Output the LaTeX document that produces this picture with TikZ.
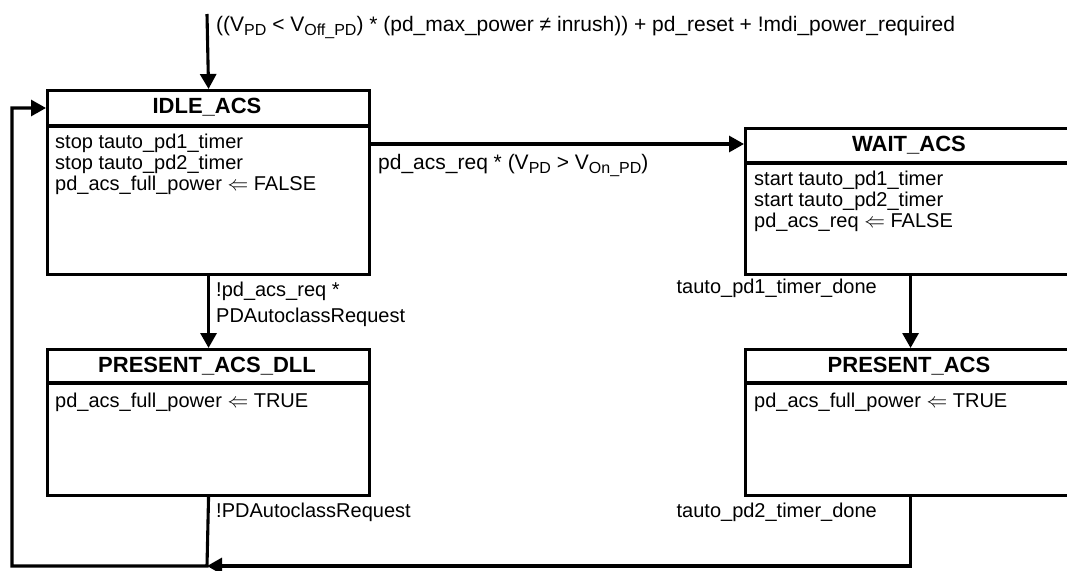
\documentclass[tikz,border=0pt]{standalone}
\usepackage{fontspec}
\setmainfont{Liberation Sans}
\usetikzlibrary{arrows.meta}
\newcommand{\lsub}[1]{\raisebox{-4.5pt}{\fontsize{16}{16}\selectfont #1}}
\begin{document}
\begin{tikzpicture}[x=1pt,y=-1pt,
  box/.style={draw, line width=3.1pt, inner sep=0pt, anchor=north west},
  title/.style={font=\fontsize{22}{24}\selectfont\bfseries, inner sep=0pt, anchor=base},
  body/.style={font=\fontsize{20}{21}\selectfont, align=left, inner sep=0pt, anchor=base west},
  lbl/.style={font=\fontsize{20}{26}\selectfont, align=left, inner sep=0pt},
  arr/.style={-{Triangle[length=15pt,width=16pt]}, line width=3.1pt},
  ln/.style={line width=3.1pt}]
\useasboundingbox (0,0) rectangle (1067,570);
\clip (0,0) rectangle (1067,570);

% state boxes
\node[box, minimum width=322pt, minimum height=184pt] (idle) at (46,89) {};
\node[box, minimum width=330pt, minimum height=146pt] (wait) at (744,127) {};
\node[box, minimum width=322pt, minimum height=146pt] (dll) at (46,348) {};
\node[box, minimum width=330pt, minimum height=146pt] (pres) at (744,348) {};

% header dividers
\draw[ln] (idle.west |- 0,126) -- (idle.east |- 0,126);
\draw[ln] (wait.west |- 0,163) -- (wait.east |- 0,163);
\draw[ln] (dll.west |- 0,383) -- (dll.east |- 0,383);
\draw[ln] (pres.west |- 0,383) -- (pres.east |- 0,383);

% titles
\node[title] (t1) at (207,113) {IDLE\_ACS};
\node[title] (t2) at (909,151) {WAIT\_ACS};
\node[title] (t3) at (207,372) {PRESENT\_ACS\_DLL};
\node[title] (t4) at (909,372) {PRESENT\_ACS};

% bodies (base anchor = baseline of the last line)
\node[body] (b1) at (55,190) {stop tauto\_pd1\_timer\\stop tauto\_pd2\_timer\\pd\_acs\_full\_power $\Leftarrow$ FALSE};
\node[body] (b2) at (754,227) {start tauto\_pd1\_timer\\start tauto\_pd2\_timer\\pd\_acs\_req $\Leftarrow$ FALSE};
\node[body] (b3) at (55,407) {pd\_acs\_full\_power $\Leftarrow$ TRUE};
\node[body] (b4) at (754,407) {pd\_acs\_full\_power $\Leftarrow$ TRUE};

% connectors
\coordinate (topin) at (207,14);
\draw[arr] (topin) -- (idle.north);
\draw[arr] (idle.east |- 0,144) -- (wait.west |- 0,144);
\draw[arr] (idle.south) -- (dll.north);
\draw[arr] (wait.south) -- (pres.north);
\coordinate (m) at (207,566);
\coordinate (bl) at (12,566);
\coordinate (tl) at (12,108);
\draw[arr] (pres.south) -- (pres.south |- m) -- (m);
\draw[arr] (dll.south) -- (m) -- (bl) -- (tl) -- (idle.west |- tl);

% labels
\node[lbl, font=\fontsize{21}{26}\selectfont, anchor=base west] (l0) at (216,31) {((V\lsub{PD} < V\lsub{Off\_PD}) * (pd\_max\_power ≠ inrush)) + pd\_reset + !mdi\_power\_required};
\node[lbl, font=\fontsize{21}{26}\selectfont, anchor=base west] (l1) at (378,169) {pd\_acs\_req * (V\lsub{PD} > V\lsub{On\_PD})};
\node[lbl, anchor=base west] (l2) at (216,322) {!pd\_acs\_req *\\PDAutoclassRequest};
\node[lbl, anchor=base east] (l3) at (877,293) {tauto\_pd1\_timer\_done};
\node[lbl, anchor=base west] (l4) at (216,517) {!PDAutoclassRequest};
\node[lbl, anchor=base east] (l5) at (877,517) {tauto\_pd2\_timer\_done};
\end{tikzpicture}
\end{document}
